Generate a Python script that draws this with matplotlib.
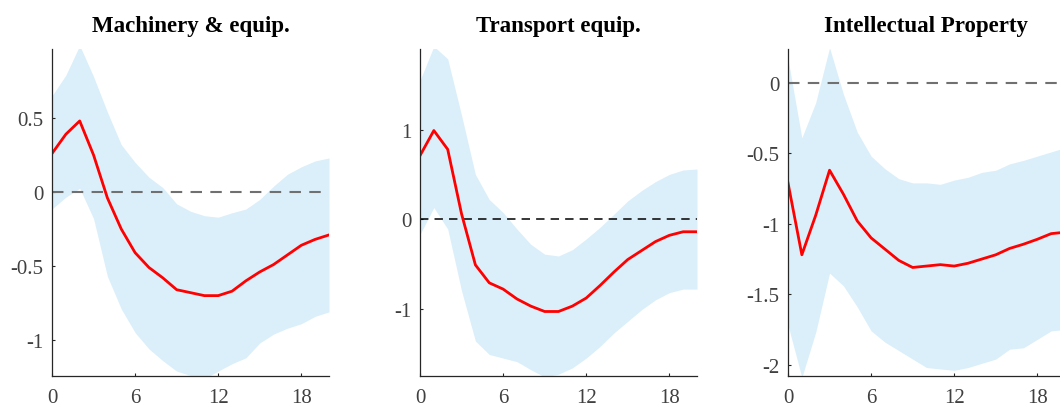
import matplotlib
matplotlib.use('Agg')
import matplotlib.pyplot as plt

horizon = list(range(21))

# Machinery & equip.
mach_med = [0.26, 0.39, 0.48, 0.25, -0.04, -0.25, -0.41, -0.51, -0.58, -0.66, -0.68,
            -0.70, -0.70, -0.67, -0.60, -0.54, -0.49, -0.425, -0.36, -0.32, -0.29]
mach_hi = [0.65, 0.79, 0.99, 0.78, 0.54, 0.32, 0.20, 0.10, 0.03, -0.08, -0.13,
           -0.16, -0.17, -0.14, -0.115, -0.05, 0.04, 0.12, 0.17, 0.21, 0.23]
mach_lo = [-0.115, -0.035, 0.025, -0.18, -0.57, -0.79, -0.95, -1.06, -1.14, -1.21, -1.24,
           -1.26, -1.21, -1.16, -1.12, -1.02, -0.96, -0.92, -0.89, -0.84, -0.81]

# Transport equip.
trans_med = [0.71, 0.99, 0.78, 0.06, -0.51, -0.71, -0.78, -0.89, -0.97, -1.03, -1.03,
             -0.97, -0.88, -0.74, -0.59, -0.45, -0.35, -0.25, -0.18, -0.14, -0.14]
trans_hi = [1.55, 1.93, 1.79, 1.16, 0.50, 0.22, 0.075, -0.11, -0.28, -0.39, -0.41,
            -0.34, -0.22, -0.09, 0.056, 0.205, 0.32, 0.42, 0.50, 0.55, 0.56]
trans_lo = [-0.17, 0.13, -0.11, -0.80, -1.36, -1.51, -1.55, -1.59, -1.68, -1.76, -1.73,
            -1.66, -1.55, -1.42, -1.27, -1.14, -1.01, -0.90, -0.82, -0.78, -0.78]

# Intellectual Property
ip_med = [-0.71, -1.22, -0.94, -0.62, -0.79, -0.98, -1.10, -1.18, -1.26, -1.31, -1.30,
          -1.29, -1.30, -1.28, -1.25, -1.22, -1.175, -1.145, -1.11, -1.07, -1.06]
ip_hi = [0.17, -0.39, -0.14, 0.25, -0.08, -0.35, -0.52, -0.61, -0.68, -0.71, -0.71,
         -0.72, -0.69, -0.67, -0.635, -0.62, -0.575, -0.55, -0.52, -0.49, -0.46]
ip_lo = [-1.72, -2.09, -1.77, -1.35, -1.44, -1.59, -1.76, -1.84, -1.90, -1.96, -2.02,
         -2.03, -2.04, -2.02, -1.99, -1.96, -1.89, -1.88, -1.82, -1.76, -1.75]

titles = ['Machinery & equip.', 'Transport equip.', 'Intellectual Property']
panels = [(mach_med, mach_lo, mach_hi), (trans_med, trans_lo, trans_hi), (ip_med, ip_lo, ip_hi)]
ylims = [(-1.243, 0.966), (-1.75, 1.90), (-2.08, 0.24)]
yticks = [[-1, -0.5, 0, 0.5], [-1, 0, 1], [-2, -1.5, -1, -0.5, 0]]
ytick_labels = [['-1', '-0.5', '0', '0.5'], ['-1', '0', '1'], ['-2', '-1.5', '-1', '-0.5', '0']]
zero_colors = ['#707070', 'black', '#707070']
zero_widths = [1.5, 1.1, 1.5]

# axes boxes in figure fraction; the last panel runs past the right edge like the source
lefts = [52 / 1060, 420 / 1060, 788 / 1060]
width = 277 / 1060
bottom = 1 - 377 / 410
height = (377 - 50) / 410

plt.rcParams['font.family'] = ['Liberation Serif', 'DejaVu Serif']

fig = plt.figure(figsize=(10.6, 4.1), dpi=100)

for i in range(3):
    ax = fig.add_axes([lefts[i], bottom, width, height])
    med, lo, hi = panels[i]
    ax.fill_between(horizon, lo, hi, color='#dbeffa', linewidth=0)
    ax.axhline(0, color=zero_colors[i], linestyle=(0, (5.5, 4)), linewidth=zero_widths[i])
    ax.plot(horizon, med, color='#ff0000', linewidth=2.0)
    ax.set_xlim(0, 20)
    ax.set_ylim(*ylims[i])
    ax.set_xticks([0, 6, 12, 18])
    ax.set_yticks(yticks[i])
    ax.set_yticklabels(ytick_labels[i])
    ax.spines['top'].set_visible(False)
    ax.spines['right'].set_visible(False)
    for s in ['left', 'bottom']:
        ax.spines[s].set_color('#262626')
        ax.spines[s].set_linewidth(0.9)
    ax.tick_params(direction='in', length=2.5, width=0.8, colors='#262626',
                   labelcolor='#404040', labelsize=15)
    ax.tick_params(axis='x', pad=9)
    ax.tick_params(axis='y', pad=6)
    ax.set_title(titles[i], fontsize=16.5, fontweight='bold', pad=13)

plt.savefig('out.png', dpi=100)
plt.close()
